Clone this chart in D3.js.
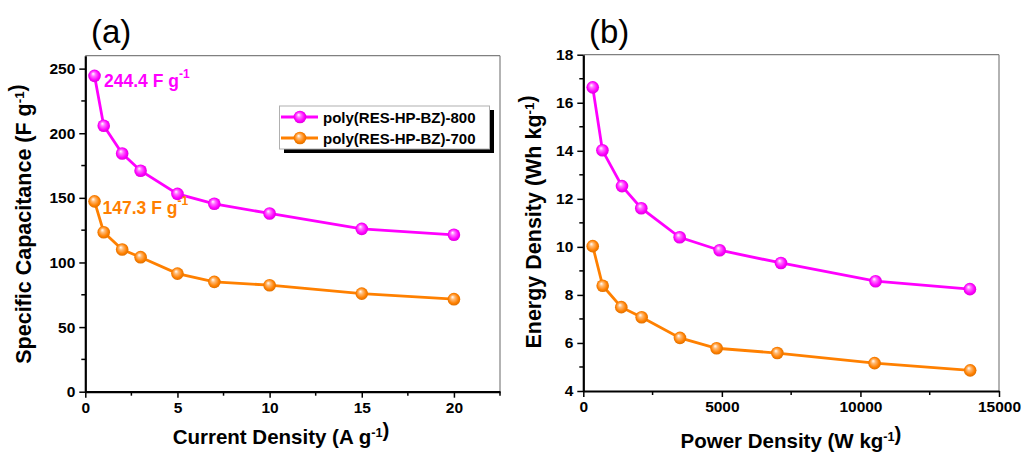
<!DOCTYPE html>
<html>
<head>
<meta charset="utf-8">
<script src="https://cdn.jsdelivr.net/npm/d3@7/dist/d3.min.js"></script>
<style>
  body { margin: 0; background: #fff; }
  svg { display: block; font-family: Arial, "Liberation Sans", sans-serif; }
</style>
</head>
<body>
<svg id="chart" width="1023" height="454"></svg>
<script>
// Rate capability: current density (A g-1) vs specific capacitance (F g-1)
const currentDensity = [0.5, 1, 2, 3, 5, 7, 10, 15, 20];
const cap800 = [244.4, 205.8, 184.3, 171.0, 153.1, 145.4, 137.9, 126.0, 121.4];
const cap700 = [147.3, 123.4, 110.0, 104.1, 91.4, 85.0, 82.4, 75.9, 71.6];

// Ragone data: power density (W kg-1) vs energy density (Wh kg-1)
const power800 = [340, 690, 1396, 2092, 3477, 4920, 7132, 10546, 13950];
const energy800 = [16.64, 14.02, 12.53, 11.61, 10.40, 9.86, 9.33, 8.57, 8.24];
const power700 = [340, 700, 1371, 2106, 3488, 4810, 7000, 10510, 13960];
const energy700 = [10.03, 8.38, 7.49, 7.07, 6.21, 5.78, 5.58, 5.16, 4.86];

const seriesNames = ["poly(RES-HP-BZ)-800", "poly(RES-HP-BZ)-700"];
const seriesColors = ["#ff00ff", "#ff8000"];

const xTicksA = [0, 5, 10, 15, 20];
const yTicksA = [0, 50, 100, 150, 200, 250];
const xTicksB = [0, 5000, 10000, 15000];
const yTicksB = [4, 6, 8, 10, 12, 14, 16, 18];

const svg = d3.select("#chart");
const defs = svg.append("defs");

// shaded sphere look for the markers
seriesColors.forEach((c, i) => {
  const g = defs.append("radialGradient")
    .attr("id", "ball" + i)
    .attr("cx", "50%").attr("cy", "50%").attr("r", "55%")
    .attr("fx", "38%").attr("fy", "32%");
  g.append("stop").attr("offset", "0%").attr("stop-color", "#ffffff");
  g.append("stop").attr("offset", "30%").attr("stop-color", d3.interpolateRgb("#ffffff", c)(0.55));
  g.append("stop").attr("offset", "70%").attr("stop-color", c);
  g.append("stop").attr("offset", "100%").attr("stop-color", d3.color(c).darker(0.5));
});

const R = 6.3;

function drawFrame(g, x, y, xTicks, yTicks, xMinor, yMinor, xFmt, yFmt) {
  const [x0, x1] = x.range();
  const [y0, y1] = y.range();
  // top and right borders in grey
  g.append("line").attr("x1", x0).attr("x2", x1).attr("y1", y1).attr("y2", y1)
    .attr("stroke", "#808080").attr("stroke-width", 1.2);
  g.append("line").attr("x1", x1).attr("x2", x1).attr("y1", y1).attr("y2", y0)
    .attr("stroke", "#808080").attr("stroke-width", 1.2);

  const xAxis = g.append("g").attr("transform", `translate(0,${y0})`)
    .call(d3.axisBottom(x).tickValues(xTicks).tickFormat(xFmt).tickSize(6).tickSizeOuter(0).tickPadding(4));
  xAxis.append("g").selectAll("line").data(xMinor).join("line")
    .attr("x1", d => x(d)).attr("x2", d => x(d)).attr("y1", 0).attr("y2", 4)
    .attr("stroke", "#000").attr("stroke-width", 1.5);

  const yAxis = g.append("g").attr("transform", `translate(${x0},0)`)
    .call(d3.axisLeft(y).tickValues(yTicks).tickFormat(yFmt).tickSize(6).tickSizeOuter(0).tickPadding(4));
  yAxis.append("g").selectAll("line").data(yMinor).join("line")
    .attr("x1", 0).attr("x2", -4).attr("y1", d => y(d)).attr("y2", d => y(d))
    .attr("stroke", "#000").attr("stroke-width", 1.5);

  [xAxis, yAxis].forEach(a => {
    a.select(".domain").attr("stroke", "#000").attr("stroke-width", 2.2);
    a.selectAll(".tick line").attr("stroke", "#000").attr("stroke-width", 1.5);
    a.selectAll(".tick text").attr("fill", "#000").attr("font-size", 15.5).attr("font-weight", "bold");
  });
  return {xAxis, yAxis};
}

function drawSeries(g, x, y, xs, ys, i) {
  const pts = xs.map((v, k) => [v, ys[k]]);
  g.append("path").datum(pts)
    .attr("d", d3.line().x(d => x(d[0])).y(d => y(d[1])))
    .attr("fill", "none").attr("stroke", seriesColors[i]).attr("stroke-width", 2.8);
  g.append("g").selectAll("circle").data(pts).join("circle")
    .attr("cx", d => x(d[0])).attr("cy", d => y(d[1])).attr("r", R)
    .attr("fill", `url(#ball${i})`);
}

function supText(sel, base, sup) {
  sel.append("tspan").text(base);
  sel.append("tspan").text(sup).attr("font-size", "0.62em").attr("dy", "-0.55em");
  sel.append("tspan").text("").attr("dy", "0.55em");
}

// ---------- panel (a) ----------
const gA = svg.append("g");
const xA = d3.scaleLinear().domain([0, 22.5]).range([85.3, 500]);
const yA = d3.scaleLinear().domain([0, 260]).range([391.7, 55.7]);
drawFrame(gA, xA, yA, xTicksA, yTicksA, [2.5, 7.5, 12.5, 17.5, 22.5], [25, 75, 125, 175, 225], d3.format("d"), d3.format("d"));

drawSeries(gA, xA, yA, currentDensity, cap800, 0);
drawSeries(gA, xA, yA, currentDensity, cap700, 1);

// peak value labels
[[cap800[0], 0, 104, 87], [cap700[0], 1, 102.5, 214]].forEach(([v, i, tx, ty]) => {
  const t = gA.append("text").attr("x", tx).attr("y", ty)
    .attr("fill", seriesColors[i]).attr("font-size", 17.5).attr("font-weight", "bold");
  t.append("tspan").text(d3.format(".1f")(v) + " F g");
  t.append("tspan").text("-1").attr("font-size", 12).attr("dy", -9);
});

// legend with drop shadow
const leg = gA.append("g");
leg.append("rect").attr("x", 284).attr("y", 110).attr("width", 210).attr("height", 43).attr("fill", "#000");
leg.append("rect").attr("x", 279.5).attr("y", 106).attr("width", 210).attr("height", 43)
  .attr("fill", "#fff").attr("stroke", "#b0b0b0").attr("stroke-width", 1);
seriesNames.forEach((name, i) => {
  const ly = 117 + i * 21;
  leg.append("line").attr("x1", 281).attr("x2", 318).attr("y1", ly).attr("y2", ly)
    .attr("stroke", seriesColors[i]).attr("stroke-width", 2.8);
  leg.append("circle").attr("cx", 300).attr("cy", ly).attr("r", R).attr("fill", `url(#ball${i})`);
  leg.append("text").attr("x", 323).attr("y", ly + 5.5).text(name)
    .attr("font-size", 15).attr("font-weight", "bold").attr("fill", "#000");
});

// axis titles (a)
const xtA = gA.append("text").attr("x", 281).attr("y", 444).attr("text-anchor", "middle")
  .attr("font-size", 20.5).attr("font-weight", "bold");
supText(xtA, "Current Density (A g", "-1");
xtA.append("tspan").text(")");
const ytA = gA.append("text").attr("transform", "translate(31,224) rotate(-90)").attr("text-anchor", "middle")
  .attr("font-size", 21.5).attr("font-weight", "bold");
supText(ytA, "Specific Capacitance (F g", "-1");
ytA.append("tspan").text(")");

gA.append("text").attr("x", 91).attr("y", 43).text("(a)").attr("font-size", 33);

// ---------- panel (b) ----------
const gB = svg.append("g");
const xB = d3.scaleLinear().domain([0, 15000]).range([583.3, 999]);
const yB = d3.scaleLinear().domain([4, 18]).range([391, 54.7]);
drawFrame(gB, xB, yB, xTicksB, yTicksB, [2500, 7500, 12500], [5, 7, 9, 11, 13, 15, 17], d3.format("d"), d3.format("d"));

drawSeries(gB, xB, yB, power800, energy800, 0);
drawSeries(gB, xB, yB, power700, energy700, 1);

const xtB = gB.append("text").attr("x", 791).attr("y", 448).attr("text-anchor", "middle")
  .attr("font-size", 20.5).attr("font-weight", "bold");
supText(xtB, "Power Density (W kg", "-1");
xtB.append("tspan").text(")");
const ytB = gB.append("text").attr("transform", "translate(541,222) rotate(-90)").attr("text-anchor", "middle")
  .attr("font-size", 21.5).attr("font-weight", "bold");
supText(ytB, "Energy Density (Wh kg", "-1");
ytB.append("tspan").text(")");

gB.append("text").attr("x", 589).attr("y", 43).text("(b)").attr("font-size", 33);
</script>
</body>
</html>
